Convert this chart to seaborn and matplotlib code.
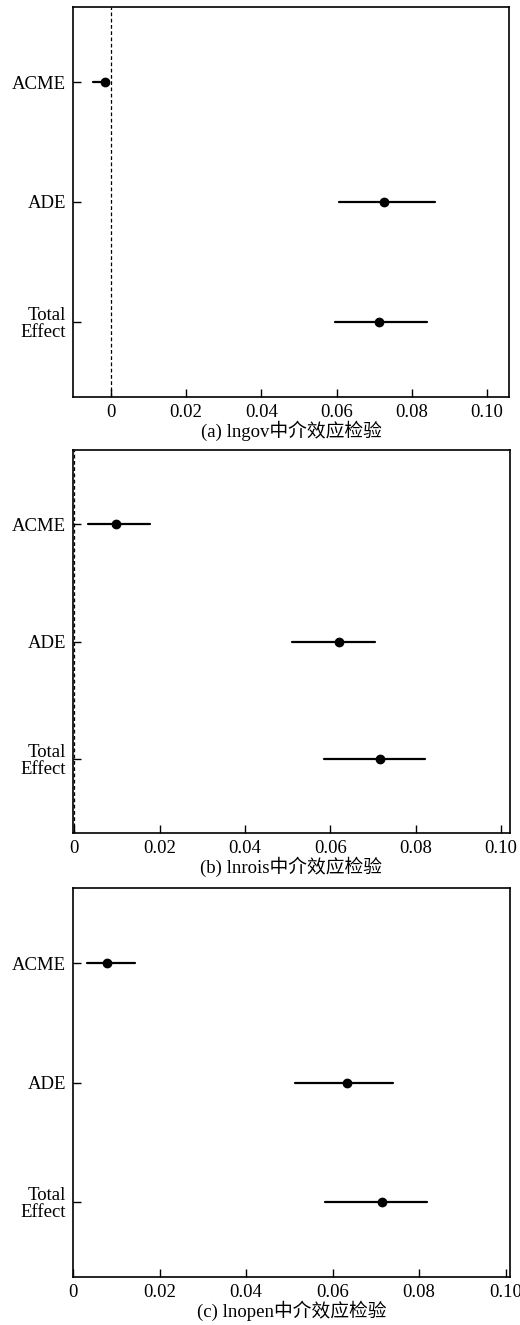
import pandas as pd
import seaborn as sns
import matplotlib.pyplot as plt

sns.set_style('ticks')
plt.rcParams['font.family'] = ['Liberation Serif', 'Noto Sans CJK SC']
plt.rcParams['font.size'] = 13.5

effects = ['ACME', 'ADE', 'Total Effect']
tick_names = ['ACME', 'ADE', 'Total\nEffect']

# (a) lngov: point estimate with lower / upper bound
gov_est = [-0.0015, 0.0727, 0.0713]
gov_low = [-0.0047, 0.0607, 0.0597]
gov_high = [-0.0004, 0.0862, 0.0841]

# (b) lnrois
rois_est = [0.0098, 0.0621, 0.0717]
rois_low = [0.0032, 0.0509, 0.0585]
rois_high = [0.0177, 0.0705, 0.0821]

# (c) lnopen
open_est = [0.0079, 0.0634, 0.0714]
open_low = [0.0033, 0.0514, 0.0582]
open_high = [0.0143, 0.0739, 0.0819]

x_ticks = [0, 0.02, 0.04, 0.06, 0.08, 0.10]
x_labels = ['0', '0.02', '0.04', '0.06', '0.08', '0.10']

titles = ['(a) lngov中介效应检验', '(b) lnrois中介效应检验', '(c) lnopen中介效应检验']


def to_long(est, low, high):
    # three rows per effect: median = estimate, min/max = interval
    rows = []
    for e, m, lo, hi in zip(effects, est, low, high):
        for v in (lo, m, hi):
            rows.append({'effect': e, 'value': v})
    return pd.DataFrame(rows)


panels = [
    (to_long(gov_est, gov_low, gov_high), (-0.01, 0.1058), True, [73, 397, 436, 390]),
    (to_long(rois_est, rois_low, rois_high), (-0.0003, 0.1021), True, [73, 833, 437, 383]),
    (to_long(open_est, open_low, open_high), (0, 0.101), False, [73, 1277, 437, 389]),
]

W, H = 520, 1325
fig = plt.figure(figsize=(W / 100, H / 100), dpi=100)

for (df, xlim, zero_line, box), title in zip(panels, titles):
    left, bottom, w, h = box
    ax = fig.add_axes([left / W, (H - bottom) / H, w / W, h / H])
    sns.pointplot(data=df, x='value', y='effect', order=effects,
                  estimator='median', errorbar=('pi', 100),
                  linestyle='none', color='black', markersize=5,
                  err_kws={'linewidth': 1.6}, ax=ax)
    if zero_line:
        ax.axvline(0, color='black', linestyle='--', linewidth=0.9, dashes=(3, 2))
    ax.set_xlim(*xlim)
    ax.set_ylim(2.63, -0.63)
    ax.set_xticks(x_ticks)
    ax.set_xticklabels(x_labels)
    ax.set_yticks(range(len(effects)))
    ax.set_yticklabels(tick_names, linespacing=1.0)
    ax.tick_params(direction='in', length=6, width=1, pad=5, colors='black')
    for s in ax.spines.values():
        s.set_linewidth(1.2)
        s.set_color('black')
    ax.set_xlabel(title, labelpad=0, fontsize=13.5, color='black')
    ax.set_ylabel('')

fig.savefig('out.png', dpi=100)
